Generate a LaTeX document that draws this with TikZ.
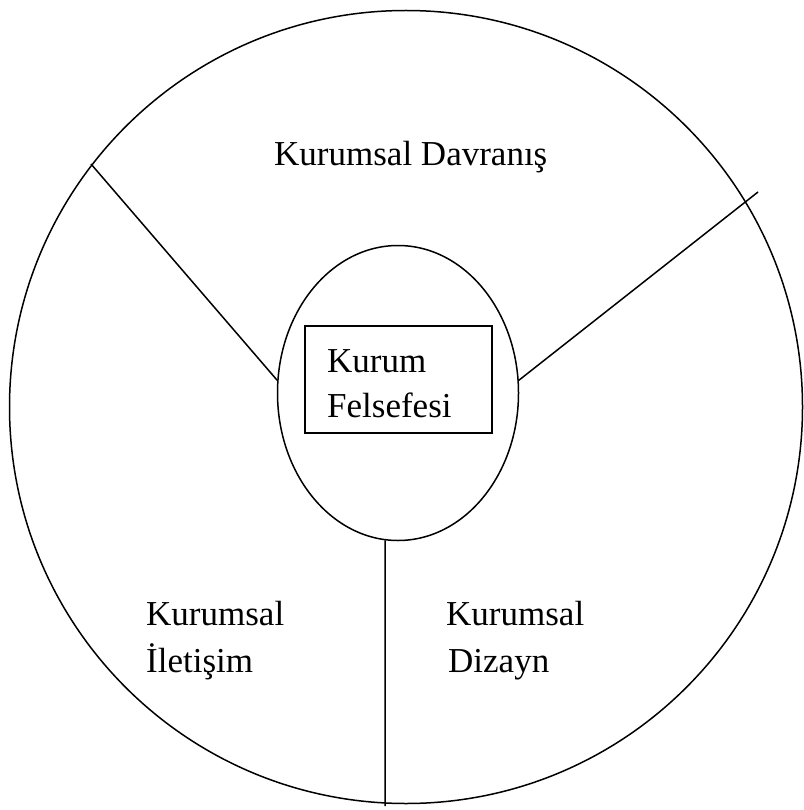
\documentclass[tikz,border=0pt]{standalone}
\usepackage{fontspec}
\setmainfont{Liberation Serif}
\usetikzlibrary{shapes.geometric}
\begin{document}
\begin{tikzpicture}[x=1pt,y=-1pt,
  rim/.style={draw=black,line width=1.5pt},
  outer/.style={rim,circle,minimum size=793pt,inner sep=0pt},
  core/.style={rim,ellipse,minimum width=241pt,minimum height=295pt,inner sep=0pt},
  box/.style={draw=black,line width=1.4pt,rectangle,minimum width=187pt,minimum height=107pt,inner sep=0pt},
  spoke/.style={draw=black,line width=1.5pt},
  lbl/.style={font=\fontsize{35}{45}\selectfont,inner sep=0pt,anchor=base west}]
  \useasboundingbox (0,0) rectangle (803,810);
  % outer ring and centre
  \node[outer] (ring) at (406,407) {};
  \node[core] (e) at (398,393) {};
  \node[box] (fbox) at (398.5,379.5) {};
  % spokes dividing the ring into three areas
  \coordinate (lt) at (91,164);
  \coordinate (rt) at (758,192);
  \coordinate (bt) at (385,806);
  \draw[spoke] (e.174) -- (lt);
  \draw[spoke] (e.6) -- (rt);
  \draw[spoke] (e.265) -- (bt);
  % labels
  \node[lbl] (davr) at (274,166) {Kurumsal Davranış};
  \node[lbl] (kur) at (327,372) {Kurum};
  \node[lbl] (fel) at (327,417) {Felsefesi};
  \node[lbl] (ilk) at (146,625) {Kurumsal};
  \node[lbl] (ile) at (146,672) {İletişim};
  \node[lbl] (dzk) at (446,625) {Kurumsal};
  \node[lbl] (dzy) at (448,672) {Dizayn};
\end{tikzpicture}
\end{document}
